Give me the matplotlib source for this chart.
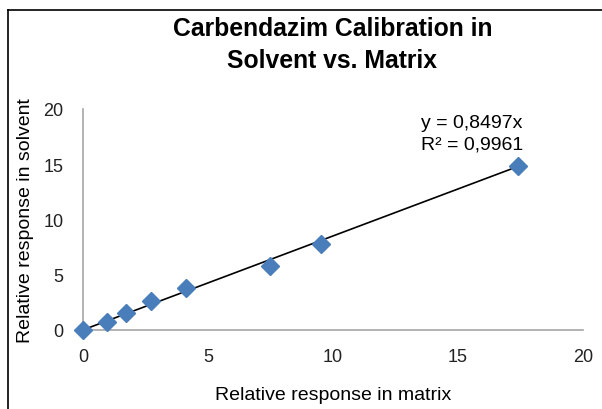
import matplotlib.pyplot as plt
from matplotlib.lines import Line2D

plt.rcParams['font.family'] = ['Liberation Sans', 'DejaVu Sans']

# Data
matrix = [0.0, 0.95, 1.72, 2.72, 4.12, 7.48, 9.52, 17.4]
solvent = [0.0, 0.75, 1.55, 2.62, 3.8, 5.75, 7.8, 14.85]
slope = 0.8497
r2 = 0.9961
x_ticks = [0, 5, 10, 15, 20]
y_ticks = [0, 5, 10, 15, 20]

fig = plt.figure(figsize=(6.02, 4.10), dpi=100)
ax = fig.add_axes([0.138, 0.193, 0.830, 0.539])

# Linear trendline through origin
x_fit = [0, max(matrix)]
y_fit = [slope * v for v in x_fit]
ax.plot(x_fit, y_fit, color='black', linewidth=1.2, zorder=2)
ax.plot(matrix, solvent, linestyle='none', marker='D', markersize=9.5,
        color='#4a7ebb', zorder=3, clip_on=False)

ax.set_xlim(0, 20)
ax.set_ylim(0, 20)
ax.set_xticks(x_ticks)
ax.set_yticks(y_ticks)
ax.tick_params(length=0, labelsize=13, colors='#222222')
ax.tick_params(axis='x', pad=13)
ax.tick_params(axis='y', pad=14)
for s in ['top', 'right']:
    ax.spines[s].set_visible(False)
for s in ['left', 'bottom']:
    ax.spines[s].set_color('#a6a6a6')
    ax.spines[s].set_linewidth(1.2)

ax.set_xlabel('Relative response in matrix', fontsize=14, labelpad=15)
ax.set_ylabel('Relative response in solvent', fontsize=14, labelpad=7)

ax.text(0.88, 0.937, f'y = {slope}x'.replace('.', ','), transform=ax.transAxes,
        ha='right', va='center', fontsize=14)
ax.text(0.88, 0.842, f'R² = {r2}'.replace('.', ','), transform=ax.transAxes,
        ha='right', va='center', fontsize=14)

fig.text(0.552, 0.89, 'Carbendazim Calibration in\nSolvent vs. Matrix',
         ha='center', va='center', fontsize=17.8, fontweight='bold',
         linespacing=1.42)

# Chart area border (left and top edges visible)
fig.add_artist(Line2D([8 / 602, 8 / 602], [0, 1 - 11 / 410],
                      transform=fig.transFigure, color='black', linewidth=1.2))
fig.add_artist(Line2D([8 / 602, 1], [1 - 11 / 410, 1 - 11 / 410],
                      transform=fig.transFigure, color='black', linewidth=1.2))

plt.savefig('out.png', dpi=100)
